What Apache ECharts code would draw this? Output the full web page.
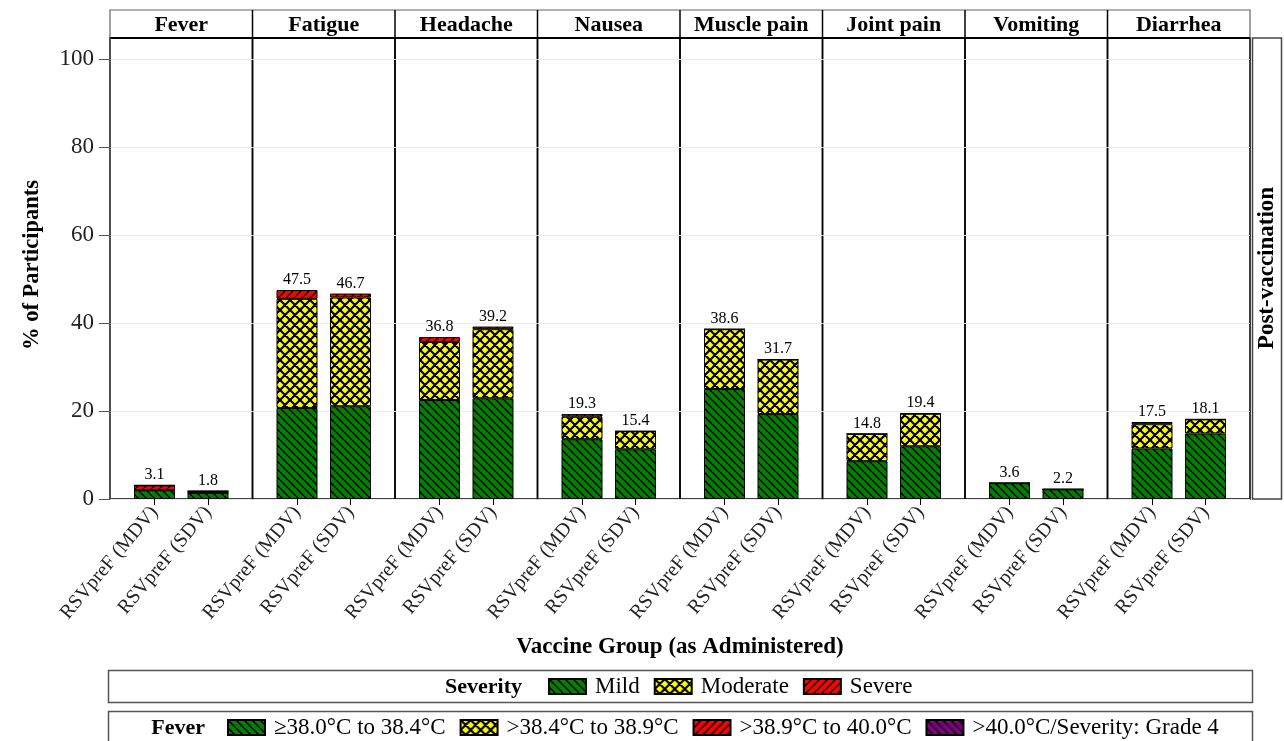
<!DOCTYPE html>
<html>
<head>
<meta charset="utf-8">
<title>Systemic events by severity, post-vaccination</title>
<script src="https://cdn.jsdelivr.net/npm/echarts@6/dist/echarts.min.js"></script>
<style>
  html, body { margin: 0; padding: 0; background: #fff; }
  #chart { width: 1284px; height: 741px; }
</style>
</head>
<body>
<div id="chart"></div>
<script>
// ---- data ----
const symptoms = ['Fever', 'Fatigue', 'Headache', 'Nausea', 'Muscle pain', 'Joint pain', 'Vomiting', 'Diarrhea'];
const groups = ['RSVpreF (MDV)', 'RSVpreF (SDV)'];
const severityNames = ['Mild', 'Moderate', 'Severe'];
const feverNames = ['≥38.0°C to 38.4°C', '>38.4°C to 38.9°C', '>38.9°C to 40.0°C', '>40.0°C/Severity: Grade 4'];
const yTicks = [0, 20, 40, 60, 80, 100];

// one [MDV, SDV] pair per symptom (fever uses the temperature bands)
const mild     = [[2.0, 1.4], [20.7, 21.1], [22.5, 22.9], [13.6, 11.3], [25.0, 19.3], [8.6, 12.0], [3.6, 2.2], [11.5, 14.9]];
const moderate = [[0, 0], [24.8, 24.7], [13.2, 15.7], [5.1, 4.1], [13.6, 12.4], [6.2, 7.4], [0, 0], [5.5, 3.2]];
const severe   = [[1.1, 0.4], [2.0, 0.9], [1.1, 0.6], [0.6, 0], [0, 0], [0, 0], [0, 0], [0.5, 0]];
const grade4   = [0, 0];
const totals   = [[3.1, 1.8], [47.5, 46.7], [36.8, 39.2], [19.3, 15.4], [38.6, 31.7], [14.8, 19.4], [3.6, 2.2], [17.5, 18.1]];

// ---- layout ----
const SERIF = "'Liberation Serif', 'DejaVu Serif', serif";
const PLOT_LEFT = 110, PANEL_W = 142.5, PLOT_TOP = 38, PLOT_H = 461, Y_MAX = 104.8;
const STRIP_TOP = 10, STRIP_H = 28;
const INNER_OFF = 17.75, INNER_W = 107;

// ---- hatch fills ----
function hatch(bg, dir, size, lw) {
  const c = document.createElement('canvas');
  c.width = c.height = size;
  const g = c.getContext('2d');
  g.fillStyle = bg;
  g.fillRect(0, 0, size, size);
  g.strokeStyle = '#000';
  g.lineWidth = lw;
  g.beginPath();
  for (const k of [-size, 0, size]) {
    if (dir.includes('\\')) { g.moveTo(k, 0); g.lineTo(k + size, size); }
    if (dir.includes('/'))  { g.moveTo(k, size); g.lineTo(k + size, 0); }
  }
  g.stroke();
  return { image: c, repeat: 'repeat' };
}
const fills = [
  hatch('#008000', '\\', 8, 1.5),
  hatch('#ffff00', '\\/', 10, 2.2),
  hatch('#ff0000', '/', 8, 1.5),
  hatch('#800080', '\\', 8, 1.5)
];

// ---- grids & axes: a frame grid per panel plus an inner grid holding the bars ----
const grid = [], xAxis = [], yAxis = [];
symptoms.forEach((s, p) => {
  const L = PLOT_LEFT + p * PANEL_W;
  grid.push({ left: L, top: PLOT_TOP, width: PANEL_W, height: PLOT_H, show: true,
              borderColor: '#000', borderWidth: 1.5, backgroundColor: 'transparent' });
  xAxis.push({ type: 'category', gridIndex: p, data: [''], show: false });
  yAxis.push({
    type: 'value', gridIndex: p, min: 0, max: Y_MAX, interval: 20,
    axisLine: { show: p === 0, lineStyle: { color: '#555', width: 1.5 } },
    axisTick: { show: p === 0, length: 11, customValues: yTicks, lineStyle: { color: '#555' } },
    axisLabel: { show: p === 0, customValues: yTicks, margin: 16, fontFamily: SERIF, fontSize: 23, color: '#222' },
    splitLine: { show: true, lineStyle: { color: '#ebebeb', width: 1 } }
  });
});
symptoms.forEach((s, p) => {
  const L = PLOT_LEFT + p * PANEL_W;
  const gi = symptoms.length + p;
  grid.push({ left: L + INNER_OFF, top: PLOT_TOP, width: INNER_W, height: PLOT_H });
  xAxis.push({
    type: 'category', gridIndex: gi, data: groups,
    axisLine: { show: false },
    axisTick: { show: true, alignWithLabel: true, length: 6, lineStyle: { color: '#000' } },
    axisLabel: { rotate: 50, margin: 10, interval: 0, fontFamily: SERIF, fontSize: 20, color: '#222' }
  });
  yAxis.push({ type: 'value', gridIndex: gi, min: 0, max: Y_MAX, show: false, splitLine: { show: false } });
});

// ---- stacked bar series ----
const series = [];
symptoms.forEach((s, p) => {
  const gi = symptoms.length + p;
  const levels = p === 0 ? [mild[p], moderate[p], severe[p], grade4] : [mild[p], moderate[p], severe[p]];
  const names = p === 0 ? feverNames : severityNames;
  levels.forEach((vals, k) => {
    const last = k === levels.length - 1;
    series.push({
      type: 'bar', name: names[k], xAxisIndex: gi, yAxisIndex: gi,
      stack: 'panel' + p, barWidth: 41, data: vals,
      itemStyle: { color: fills[k], borderColor: '#000', borderWidth: 1 },
      label: last ? {
        show: true, position: 'top', distance: 2,
        fontFamily: SERIF, fontSize: 16, color: '#000',
        formatter: (d) => totals[p][d.dataIndex].toFixed(1)
      } : { show: false },
      emphasis: { disabled: true },
      animation: false
    });
  });
});

// ---- strips, titles and legend frames ----
const graphic = [];
graphic.push({ type: 'rect', shape: { x: PLOT_LEFT, y: STRIP_TOP, width: PANEL_W * symptoms.length, height: STRIP_H },
               style: { fill: '#fff', stroke: '#666', lineWidth: 1.2 } });
symptoms.forEach((s, p) => {
  const L = PLOT_LEFT + p * PANEL_W;
  if (p > 0) {
    graphic.push({ type: 'line', shape: { x1: L, y1: STRIP_TOP, x2: L, y2: STRIP_TOP + STRIP_H },
                   style: { stroke: '#000', lineWidth: 1.5 } });
  }
  graphic.push({ type: 'text', x: L + PANEL_W / 2, y: STRIP_TOP + STRIP_H / 2 + 1,
                 style: { text: s, font: 'bold 22px ' + SERIF, fill: '#000', align: 'center', verticalAlign: 'middle' } });
});
graphic.push({ type: 'line', shape: { x1: PLOT_LEFT, y1: PLOT_TOP, x2: PLOT_LEFT + PANEL_W * symptoms.length, y2: PLOT_TOP },
               style: { stroke: '#000', lineWidth: 2 } });
graphic.push({ type: 'rect', shape: { x: 1252.5, y: PLOT_TOP, width: 29, height: PLOT_H },
               style: { fill: '#fff', stroke: '#444', lineWidth: 1.5 } });
graphic.push({ type: 'text', x: 1267, y: 268, rotation: Math.PI / 2,
               style: { text: 'Post-vaccination', font: 'bold 23px ' + SERIF, fill: '#000', align: 'center', verticalAlign: 'middle' } });
graphic.push({ type: 'text', x: 32, y: 265, rotation: Math.PI / 2,
               style: { text: '% of Participants', font: 'bold 22.5px ' + SERIF, fill: '#000', align: 'center', verticalAlign: 'middle' } });
graphic.push({ type: 'text', x: 680, y: 647,
               style: { text: 'Vaccine Group (as Administered)', font: 'bold 23px ' + SERIF, fill: '#000', align: 'center', verticalAlign: 'middle' } });
graphic.push({ type: 'rect', shape: { x: 108.5, y: 670.5, width: 1144, height: 32 },
               style: { fill: '#fff', stroke: '#555', lineWidth: 1.5 }, z: -1 });
graphic.push({ type: 'rect', shape: { x: 108.5, y: 711.5, width: 1144, height: 34 },
               style: { fill: '#fff', stroke: '#555', lineWidth: 1.5 }, z: -1 });
graphic.push({ type: 'text', x: 522, y: 687,
               style: { text: 'Severity', font: 'bold 22px ' + SERIF, fill: '#000', align: 'right', verticalAlign: 'middle' } });
graphic.push({ type: 'text', x: 205, y: 728,
               style: { text: 'Fever', font: 'bold 22px ' + SERIF, fill: '#000', align: 'right', verticalAlign: 'middle' } });

const legendBase = {
  orient: 'horizontal', icon: 'rect', itemWidth: 37, itemHeight: 15, itemGap: 14,
  padding: 0, selectedMode: false,
  textStyle: { fontFamily: SERIF, fontSize: 23, color: '#000', padding: [0, 0, 0, 4], lineHeight: 23 }
};

const chart = echarts.init(document.getElementById('chart'), null, { renderer: 'canvas' });
chart.setOption({
  backgroundColor: '#fff',
  animation: false,
  grid, xAxis, yAxis, series, graphic,
  legend: [
    Object.assign({}, legendBase, { data: severityNames, left: 548, top: 675 }),
    Object.assign({}, legendBase, { data: feverNames, left: 227, top: 716, itemGap: 14 })
  ]
});
</script>
</body>
</html>
